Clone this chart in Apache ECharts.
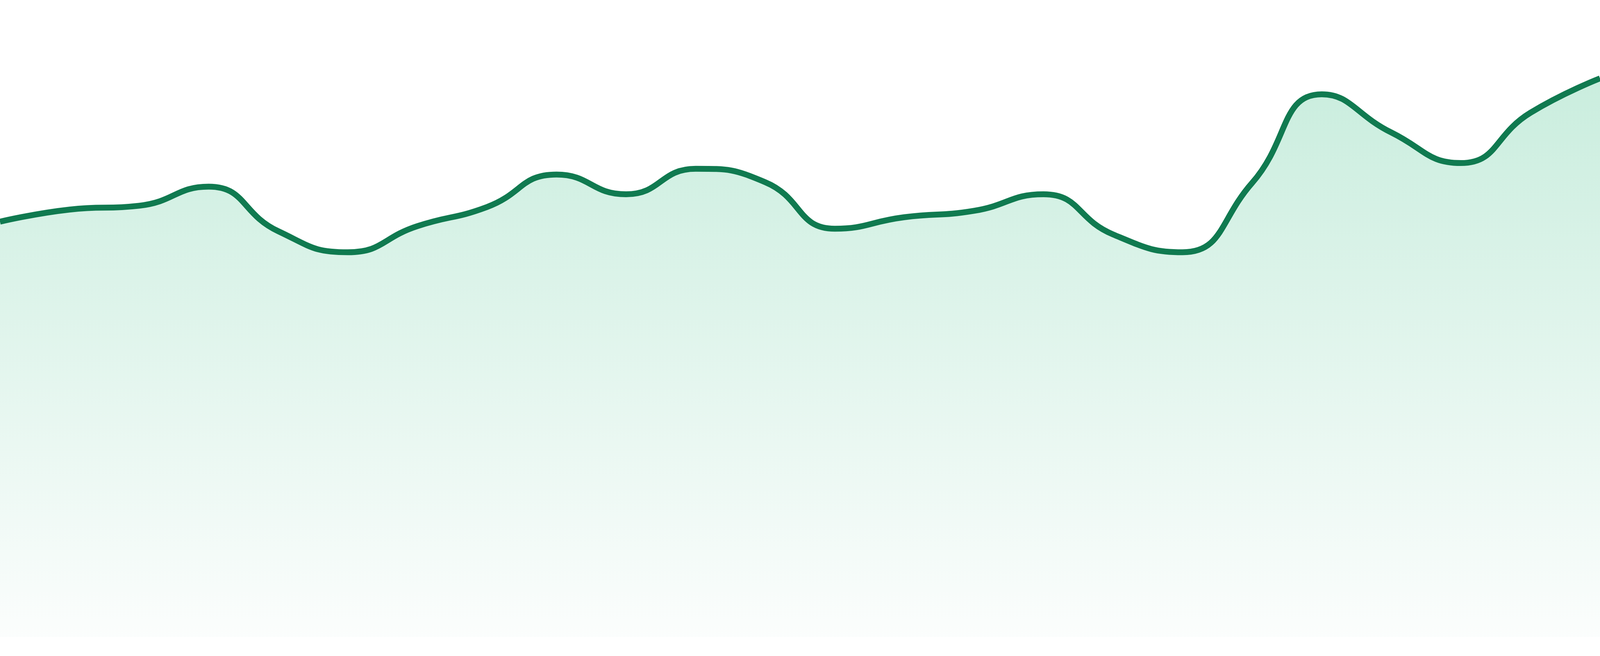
<!DOCTYPE html>
<html>
<head>
<meta charset="utf-8">
<title>Area trend</title>
<script src="https://cdn.jsdelivr.net/npm/echarts@6/dist/echarts.min.js"></script>
<style>
    html, body { margin: 0; padding: 0; background: #ffffff; overflow: hidden; }
    #trendChart { width: 100vw; height: 100vh; }
</style>
</head>
<body>
<div id="trendChart"></div>
<script>
const labels = ['1', '2', '3', '4', '5', '6', '7', '8', '9', '10', '11', '12',
    '13', '14', '15', '16', '17', '18', '19', '20', '21', '22', '23', '24'];
const values = [65.2, 67.1, 67.7, 70.7, 63.7, 60.4, 64.5, 67.5, 72.6, 69.5, 73.5, 71.4,
    64.1, 65.9, 66.9, 69.5, 63.2, 60.4, 71.3, 85.2, 79.2, 74.4, 82.3, 87.7];

document.addEventListener("DOMContentLoaded", () => {
    echarts.init(document.querySelector("#trendChart")).setOption({
        animation: false,
        grid: {
            left: 0,
            right: 0,
            top: 0,
            bottom: '2.9%'
        },
        xAxis: {
            type: 'category',
            data: labels,
            boundaryGap: false,
            show: false
        },
        yAxis: {
            type: 'value',
            min: 0,
            max: 100,
            show: false
        },
        series: [{
            type: 'line',
            data: values,
            smooth: true,
            symbol: 'none',
            lineStyle: {
                color: '#107a50',
                width: 15
            },
            areaStyle: {
                color: new echarts.graphic.LinearGradient(0, 0, 0, 1, [
                    { offset: 0, color: '#b2e5cf' },
                    { offset: 1, color: '#f9fcfb' }
                ])
            }
        }]
    });
});
</script>
</body>
</html>
